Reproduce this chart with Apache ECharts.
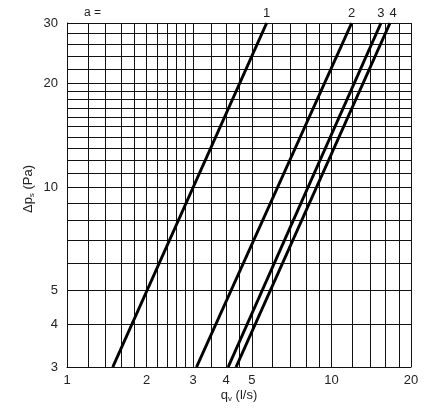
<!DOCTYPE html>
<html><head><meta charset="utf-8">
<script src="https://cdn.jsdelivr.net/npm/echarts@6/dist/echarts.min.js"></script>
<style>html,body{margin:0;padding:0;background:#fff}#c{width:447px;height:416px}</style>
</head><body><div id="c"></div>
<script>
// tick labels
const xTicks = [1, 2, 3, 4, 5, 10, 20];
const yTicks = [3, 4, 5, 10, 20, 30];
// grid lines
const xGrid = [1, 1.2, 1.4, 1.6, 1.8, 2, 2.2, 2.4, 2.6, 2.8, 3, 3.5, 4, 4.5, 5, 6, 7, 8, 9, 10, 12, 14, 16, 18, 20];
const yGrid = [3, 4, 5, 6, 7, 8, 9, 10, 11, 12, 13, 14, 15, 16, 17, 18, 19, 20, 22, 24, 26, 28, 30];
// series (qv in l/s, dp in Pa)
const lineNames = ['1', '2', '3', '4'];
const dpRange = [3, 30];
const q1 = [1.49, 5.69];
const q2 = [3.09, 11.93];
const q3 = [4.07, 15.4];
const q4 = [4.36, 16.66];
const qAll = [q1, q2, q3, q4];

const font = 'Liberation Sans, Arial, sans-serif';
const txt = '#222';

const chart = echarts.init(document.getElementById('c'));
const series = qAll.map((q, i) => ({
  type: 'line',
  name: lineNames[i],
  symbol: 'circle',
  symbolSize: 0,
  showSymbol: true,
  clip: false,
  lineStyle: { color: '#000', width: 3 },
  itemStyle: { color: '#000' },
  z: 5,
  data: q.map((v, j) => j === q.length - 1 ? {
    value: [v, dpRange[j]],
    label: { show: true, position: 'top', distance: 3, formatter: lineNames[i],
      color: txt, fontSize: 13, fontFamily: font, offset: [i === 3 ? 3 : 0, 0] }
  } : [v, dpRange[j]])
}));
series.push({
  type: 'line', data: [], silent: true, z: 2,
  markLine: {
    silent: true, symbol: ['none', 'none'], animation: false,
    label: { show: false },
    lineStyle: { color: '#111', width: 1, type: 'solid' },
    data: xGrid.map(v => ({ xAxis: v })).concat(yGrid.map(v => ({ yAxis: v })))
  }
});

chart.setOption({
  animation: false,
  grid: { left: 67, right: 36, top: 23, bottom: 49 },
  xAxis: {
    type: 'log', logBase: 10, min: 1, max: 20,
    name: '{a|q}{s|v}{a| (l/s)}', nameLocation: 'middle', nameGap: 20, nameMoveOverlap: false,
    nameTextStyle: { color: txt, fontFamily: font,
      rich: { a: { fontSize: 13, fontFamily: font, color: txt, lineHeight: 16 },
              s: { fontSize: 8, fontFamily: font, color: txt, verticalAlign: 'bottom', lineHeight: 16, padding: [6, 0, 0, 0] } } },
    axisLine: { show: true, lineStyle: { color: '#000', width: 1 } },
    axisTick: { show: false },
    splitLine: { show: false }, minorSplitLine: { show: false },
    axisLabel: { customValues: xTicks, color: txt, fontSize: 13, fontFamily: font, margin: 7,
      formatter: v => String(Math.round(v)) }
  },
  yAxis: {
    type: 'log', logBase: 10, min: 3, max: 30,
    name: '{a|Δp}{s|s}{a| (Pa)}', nameLocation: 'middle', nameGap: 31, nameMoveOverlap: false,
    nameTextStyle: { color: txt, fontFamily: font, padding: [0, 0, 0, 12],
      rich: { a: { fontSize: 13, fontFamily: font, color: txt, lineHeight: 16 },
              s: { fontSize: 8, fontFamily: font, color: txt, verticalAlign: 'bottom', lineHeight: 16, padding: [6, 0, 0, 0] } } },
    axisLine: { show: true, lineStyle: { color: '#000', width: 1 } },
    axisTick: { show: false },
    splitLine: { show: false }, minorSplitLine: { show: false },
    axisLabel: { customValues: yTicks, color: txt, fontSize: 13, fontFamily: font, margin: 9,
      formatter: v => String(Math.round(v)) }
  },
  graphic: [{ type: 'text', left: 84, top: 7, style: { text: 'a =', fill: txt, fontSize: 12, fontFamily: font } }],
  series: series
});
</script></body></html>
